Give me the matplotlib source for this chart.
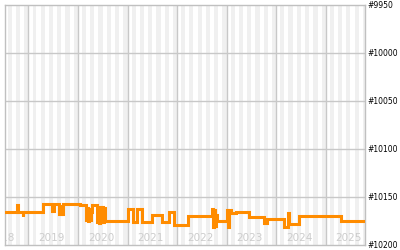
import matplotlib
matplotlib.use("Agg")
import matplotlib.pyplot as plt
import pandas as pd
import datetime as dt

# ---- data ----
dates = [
    "2018-07-13", "2018-10-13", "2018-10-17", "2018-11-19", "2018-11-25",
    "2019-04-16", "2019-06-24", "2019-07-06", "2019-08-14", "2019-08-28",
    "2019-09-03", "2019-09-12", "2020-01-15",
    "2020-02-28", "2020-03-06", "2020-03-12", "2020-03-20", "2020-03-28",
    "2020-04-05", "2020-04-13",
    "2020-05-19", "2020-05-27", "2020-06-03", "2020-06-10", "2020-06-18",
    "2020-06-25", "2020-07-03", "2020-07-10", "2020-07-17",
    "2021-01-02", "2021-02-08", "2021-03-09", "2021-04-14", "2021-06-28",
    "2021-09-09", "2021-11-06", "2021-12-13", "2022-03-19",
    "2022-09-19", "2022-09-26", "2022-10-02", "2022-10-10", "2022-10-18",
    "2022-10-26", "2023-01-07", "2023-01-12", "2023-01-17", "2023-02-06",
    "2023-03-14", "2023-06-18", "2023-10-06", "2023-10-28", "2024-03-01",
    "2024-03-28", "2024-04-03", "2024-06-20", "2025-04-24", "2025-10-17",
]
ranks = [
    10166, 10158, 10166, 10170, 10166,
    10157, 10165, 10157, 10168, 10159,
    10168, 10157, 10158,
    10174, 10161, 10175, 10163, 10174,
    10166, 10158,
    10176, 10161, 10177, 10160, 10176,
    10160, 10176, 10161, 10175,
    10162, 10176, 10163, 10176, 10169,
    10176, 10166, 10179, 10170,
    10163, 10181, 10164, 10180, 10169,
    10175, 10164, 10181, 10164, 10167,
    10166, 10171, 10177, 10173, 10181,
    10167, 10178, 10170, 10175, 10175,
]
years = [2018, 2019, 2020, 2021, 2022, 2023, 2024, 2025]
ytick_vals = [9950, 10000, 10050, 10100, 10150, 10200]

x = pd.to_datetime(dates)

fig = plt.figure(figsize=(4, 2.5), dpi=100)
ax = fig.add_axes([5 / 400, 5 / 250, 360 / 400, 240 / 250])

xmin = dt.datetime(2018, 7, 13)
xmax = dt.datetime(2025, 10, 17)
ax.set_xlim(xmin, xmax)
ax.set_ylim(ytick_vals[-1], ytick_vals[0])

# month stripes (even months grey)
for yr in range(2018, 2026):
    for m in range(2, 13, 2):
        s = dt.datetime(yr, m, 1)
        e = dt.datetime(yr + (m == 12), (m % 12) + 1, 1)
        ax.axvspan(s, e, color="#f0f0f0", lw=0, zorder=0)

# horizontal grid
for v in ytick_vals[1:-1]:
    ax.axhline(v, color="#c8c8c8", lw=1, zorder=1)
# year lines
for yr in years[1:]:
    ax.axvline(dt.datetime(yr, 1, 1), color="#c8c8c8", lw=1, zorder=1)

# year labels
for yr in years:
    ax.text(dt.datetime(yr, 6, 20), 10192.3, str(yr), ha="center", va="center",
            fontsize=7.5, color="#cccccc", clip_on=True, zorder=2)

ax.plot(x, ranks, drawstyle="steps-post", color="#ff8c00", lw=2.2,
        solid_joinstyle="miter", zorder=3)

for sp in ax.spines.values():
    sp.set_color("#c0c0c0")
    sp.set_linewidth(1)
ax.set_xticks([])
ax.set_yticks([])

# right-side labels
for v in ytick_vals:
    ax.text(1.007, (v - ytick_vals[-1]) / (ytick_vals[0] - ytick_vals[-1]),
            "#%d" % v, transform=ax.transAxes, ha="left", va="center",
            fontsize=5.5, color="black", clip_on=False)

fig.savefig("out.png", dpi=100)
